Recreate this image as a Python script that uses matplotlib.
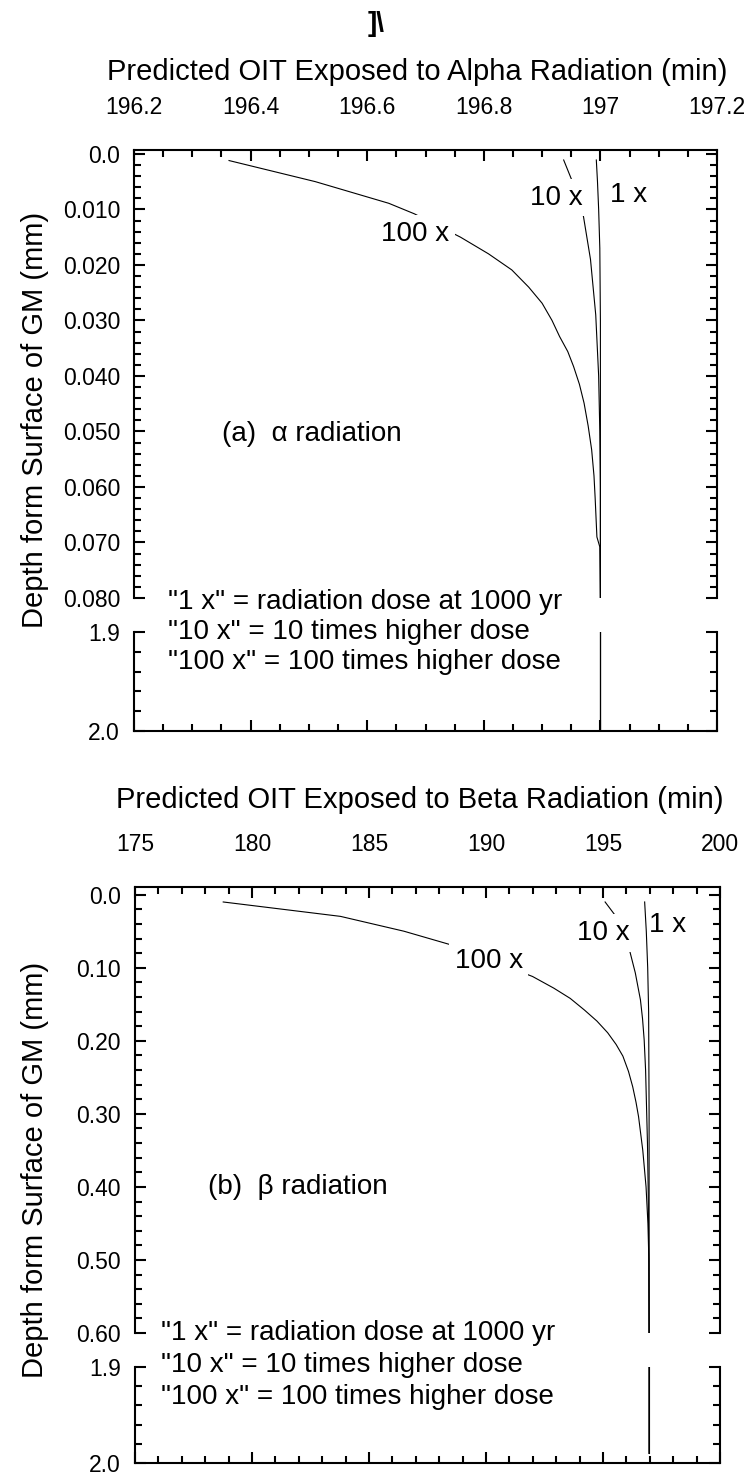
import matplotlib
matplotlib.use("Agg")
import matplotlib.pyplot as plt
from matplotlib.ticker import MultipleLocator

plt.rcParams['font.family'] = ['Liberation Sans', 'DejaVu Sans']

##-----DATA-----##

# (a) alpha radiation: depth (mm) vs predicted OIT (min)
alpha_depth_1x = [0.0011, 0.005, 0.010, 0.017, 0.030, 0.050, 0.070, 0.080, 2.0]
alpha_oit_1x = [196.993, 196.995, 196.997, 196.999, 197.0, 197.0, 197.0, 197.0, 197.0]

alpha_depth_10x = [0.0011, 0.005, 0.008, 0.0113, 0.019, 0.029, 0.040, 0.050, 0.060, 0.080, 2.0]
alpha_oit_10x = [196.937, 196.952, 196.962, 196.971, 196.983, 196.992, 196.997, 196.999, 197.0, 197.0, 197.0]

alpha_depth_100x = [0.0012, 0.005, 0.0089, 0.0108, 0.0150, 0.0180, 0.0209, 0.0240, 0.0269, 0.0300,
                    0.0329, 0.0356, 0.0383, 0.0415, 0.0449, 0.0490, 0.0533, 0.0580, 0.0620, 0.0690,
                    0.0708, 0.080, 2.0]
alpha_oit_100x = [196.363, 196.511, 196.637, 196.681, 196.760, 196.808, 196.848, 196.877, 196.900, 196.917,
                  196.930, 196.944, 196.954, 196.964, 196.972, 196.979, 196.985, 196.989, 196.991, 196.994,
                  196.999, 197.0, 197.0]

# (b) beta radiation
beta_depth_1x = [0.010, 0.05, 0.10, 0.16, 0.30, 0.45, 0.60, 1.99]
beta_oit_1x = [196.78, 196.85, 196.91, 196.95, 196.97, 196.97, 196.97, 196.97]

beta_depth_10x = [0.010, 0.030, 0.078, 0.107, 0.144, 0.170, 0.199, 0.24, 0.29, 0.34, 0.40, 0.50, 0.60, 1.99]
beta_oit_10x = [195.09, 195.56, 196.15, 196.38, 196.60, 196.69, 196.76, 196.82, 196.86, 196.90, 196.93,
                196.96, 196.97, 196.97]

beta_depth_100x = [0.010, 0.0297, 0.050, 0.068, 0.112, 0.128, 0.142, 0.158, 0.173, 0.189, 0.205, 0.221,
                   0.242, 0.263, 0.284, 0.304, 0.35, 0.40, 0.45, 0.50, 0.60, 1.99]
beta_oit_100x = [178.77, 183.78, 186.49, 188.43, 191.99, 192.90, 193.60, 194.21, 194.74, 195.20, 195.56,
                 195.85, 196.09, 196.27, 196.41, 196.52, 196.70, 196.84, 196.92, 196.96, 196.97, 196.97]

# ticks
alpha_xticks = [196.2, 196.4, 196.6, 196.8, 197.0, 197.2]
alpha_xticklabels = ["196.2", "196.4", "196.6", "196.8", "197", "197.2"]
alpha_yticks = [0.0, 0.01, 0.02, 0.03, 0.04, 0.05, 0.06, 0.07, 0.08]
alpha_yticklabels = ["0.0", "0.010", "0.020", "0.030", "0.040", "0.050", "0.060", "0.070", "0.080"]

beta_xticks = [175, 180, 185, 190, 195, 200]
beta_xticklabels = ["175", "180", "185", "190", "195", "200"]
beta_yticks = [0.0, 0.1, 0.2, 0.3, 0.4, 0.5, 0.6]
beta_yticklabels = ["0.0", "0.10", "0.20", "0.30", "0.40", "0.50", "0.60"]

deep_yticks = [1.9, 2.0]
deep_yticklabels = ["1.9", "2.0"]

notes = ['"1 x" = radiation dose at 1000 yr',
         '"10 x" = 10 times higher dose',
         '"100 x" = 100 times higher dose']

W, H = 750, 1475
fig = plt.figure(figsize=(W / 100, H / 100), dpi=100)


def px_axes(left, right, top, bottom):
    # axes from pixel box of the reference
    return fig.add_axes([left / W, 1 - bottom / H, (right - left) / W, (bottom - top) / H])


def style(ax, top_labels):
    for s in ax.spines.values():
        s.set_linewidth(1.5)
    ax.tick_params(which="both", direction="in", left=True, right=True,
                   width=1.5, labelsize=16.5, pad=10)
    ax.tick_params(which="major", length=8)
    ax.tick_params(which="minor", length=5)
    if top_labels:
        ax.spines["bottom"].set_visible(False)
        ax.tick_params(axis="x", which="both", top=True, bottom=False,
                       labeltop=True, labelbottom=False, pad=22)
    else:
        ax.spines["top"].set_visible(False)
        ax.tick_params(axis="x", which="both", top=False, bottom=True,
                       labeltop=False, labelbottom=False)


def panel(left, right, top, brk, top2, bottom, xlim, xticks, xlabels, xminor,
          ylim, yticks, ylabels, yminor, series):
    ax1 = px_axes(left, right, top, brk)
    ax2 = px_axes(left, right, top2, bottom)
    for ax in (ax1, ax2):
        for d, o in series:
            ax.plot(o, d, color="black", lw=0.8)
        ax.set_xlim(*xlim)
        ax.set_xticks(xticks)
        ax.xaxis.set_minor_locator(MultipleLocator(xminor))
    ax1.set_xticklabels(xlabels)
    ax1.set_ylim(*ylim)
    ax1.set_yticks(yticks, labels=ylabels)
    ax1.yaxis.set_minor_locator(MultipleLocator(yminor))
    ax2.set_ylim(2.0, 1.9)
    ax2.set_yticks(deep_yticks, labels=deep_yticklabels)
    ax2.yaxis.set_minor_locator(MultipleLocator(0.02))
    style(ax1, True)
    style(ax2, False)
    return ax1, ax2


box = dict(facecolor="white", edgecolor="none", boxstyle="square,pad=0.2")

##-----PANEL (a) ALPHA-----##
a1, a2 = panel(134, 717, 150, 598, 632, 731, (196.2, 197.2), alpha_xticks, alpha_xticklabels, 0.05,
               (0.080, -0.0007), alpha_yticks, alpha_yticklabels, 0.002,
               [(alpha_depth_1x, alpha_oit_1x), (alpha_depth_10x, alpha_oit_10x),
                (alpha_depth_100x, alpha_oit_100x)])
a1.text(196.682, 0.0144, "100 x", fontsize=20, ha="center", va="center", bbox=box)
a1.text(196.924, 0.0079, "10 x", fontsize=20, ha="center", va="center", bbox=box)
a1.text(197.049, 0.0074, "1 x", fontsize=20, ha="center", va="center")
a1.text(196.505, 0.0505, "(a)  α radiation", fontsize=20, ha="center", va="center")

fig.text(376 / W, 1 - 24 / H, "]\\", fontsize=20, fontweight="bold", ha="center", va="center")
fig.text(417 / W, 1 - 72 / H, "Predicted OIT Exposed to Alpha Radiation (min)",
         fontsize=21, ha="center", va="center")
fig.text(35 / W, 1 - 420 / H, "Depth form Surface of GM (mm)", fontsize=21,
         rotation=90, ha="center", va="center")
for i, t in enumerate(notes):
    fig.text(168 / W, 1 - (602 + 30 * i) / H, t, fontsize=20, ha="left", va="center")

##-----PANEL (b) BETA-----##
b1, b2 = panel(135, 720, 887, 1333, 1367, 1463, (175, 200), beta_xticks, beta_xticklabels, 1,
               (0.60, -0.0105), beta_yticks, beta_yticklabels, 0.02,
               [(beta_depth_1x, beta_oit_1x), (beta_depth_10x, beta_oit_10x),
                (beta_depth_100x, beta_oit_100x)])
b1.text(190.11, 0.0914, "100 x", fontsize=20, ha="center", va="center", bbox=box)
b1.text(195.03, 0.0525, "10 x", fontsize=20, ha="center", va="center", bbox=box)
b1.text(197.75, 0.041, "1 x", fontsize=20, ha="center", va="center")
b1.text(181.97, 0.40, "(b)  β radiation", fontsize=20, ha="center", va="center")

fig.text(420 / W, 1 - 800 / H, "Predicted OIT Exposed to Beta Radiation (min)",
         fontsize=21, ha="center", va="center")
fig.text(35 / W, 1 - 1170 / H, "Depth form Surface of GM (mm)", fontsize=21,
         rotation=90, ha="center", va="center")
for i, t in enumerate(notes):
    fig.text(161 / W, 1 - (1333 + 32 * i) / H, t, fontsize=20, ha="left", va="center")

fig.savefig("out.png", dpi=100)
